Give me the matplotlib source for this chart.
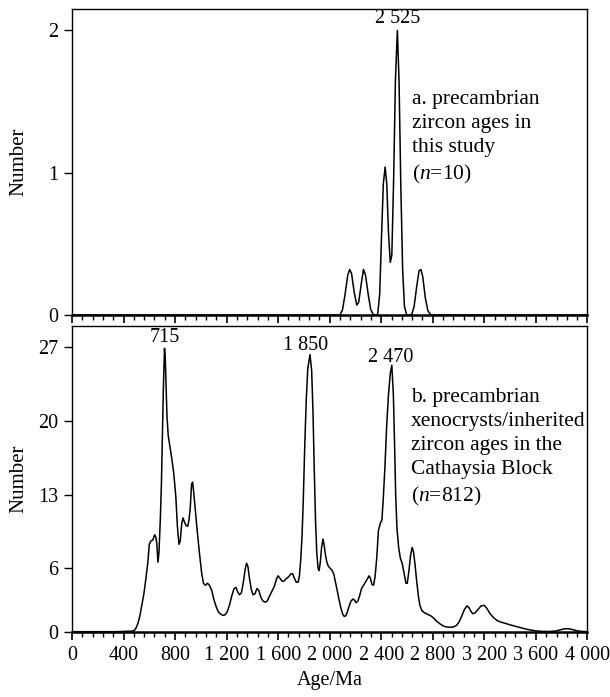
import numpy as np
import matplotlib
matplotlib.use('Agg')
import matplotlib.pyplot as plt
from matplotlib.ticker import MultipleLocator, FixedLocator

plt.rcParams['font.family'] = ['Liberation Serif', 'DejaVu Serif']
plt.rcParams['font.size'] = 14.5
plt.rcParams['mathtext.fontset'] = 'custom'
plt.rcParams['mathtext.rm'] = 'Liberation Serif'
plt.rcParams['mathtext.it'] = 'Liberation Serif:italic'

# a. precambrian zircon ages in this study (n=10)
top_age = [0, 2080, 2100, 2120, 2140, 2155, 2170, 2190, 2210, 2225, 2245, 2262, 2278,
           2298, 2318, 2340, 2372, 2388, 2402, 2416, 2430, 2443, 2456, 2470, 2482,
           2496, 2510, 2525, 2538, 2552, 2566, 2580, 2598, 2635, 2655, 2675, 2693,
           2708, 2722, 2742, 2762, 2785, 4000]
top_num = [0, 0, 0.04, 0.15, 0.28, 0.32, 0.29, 0.16, 0.07, 0.09, 0.22, 0.32, 0.28,
           0.15, 0.04, 0, 0, 0.15, 0.55, 0.92, 1.04, 0.92, 0.58, 0.37, 0.42,
           0.95, 1.65, 2.0, 1.65, 0.9, 0.32, 0.06, 0, 0, 0.06, 0.2, 0.31,
           0.32, 0.27, 0.12, 0.03, 0, 0]

# b. precambrian xenocrysts/inherited zircon ages in the Cathaysia Block (n=812)
bot_age = [0, 340, 460, 482, 497, 512, 527, 542, 558, 573, 588, 600, 612, 627, 642, 650,
           658, 667, 675, 685, 694, 702, 709, 718, 724, 730, 737, 747, 760, 775, 790,
           806, 818, 830, 840, 852, 862, 873, 885, 898, 908, 918, 928, 936, 945, 955,
           970, 988, 1006, 1020, 1035, 1052, 1067, 1085, 1100, 1118, 1135, 1150, 1170,
           1188, 1205, 1224, 1240, 1258, 1273, 1285, 1300, 1315, 1330, 1345, 1355, 1365,
           1378, 1392, 1405, 1420, 1436, 1450, 1465, 1482, 1500, 1515, 1530, 1550, 1570,
           1590, 1600, 1612, 1630, 1645, 1660, 1680, 1700, 1712, 1725, 1740, 1755, 1765,
           1775, 1785, 1795, 1806, 1818, 1830, 1847, 1860, 1870, 1880, 1890, 1900, 1910,
           1918, 1927, 1937, 1948, 1957, 1967, 1978, 1990, 2005, 2020, 2033, 2045, 2060,
           2073, 2088, 2100, 2112, 2124, 2135, 2150, 2165, 2180, 2192, 2205, 2218, 2232,
           2247, 2262, 2278, 2292, 2305, 2315, 2328, 2340, 2352, 2365, 2378, 2393, 2405,
           2415, 2428, 2442, 2456, 2470, 2482, 2494, 2503, 2512, 2522, 2535, 2548, 2562,
           2578, 2592, 2602, 2615, 2628, 2640, 2650, 2662, 2675, 2688, 2700, 2715, 2735,
           2760, 2785, 2805, 2830, 2855, 2880, 2905, 2935, 2960, 2985, 3005, 3025, 3045,
           3065, 3080, 3095, 3110, 3130, 3150, 3175, 3200, 3220, 3245, 3270, 3300, 3330,
           3360, 3400, 3450, 3500, 3550, 3600, 3650, 3700, 3750, 3790, 3825, 3855, 3885,
           3920, 3960, 4000]
bot_num = [0, 0, 0.05, 0.1, 0.35, 0.8, 1.5, 2.5, 3.6, 5.0, 6.5, 8.3, 8.6, 8.7, 9.2, 9.0,
           8.4, 6.6, 7.5, 10.5, 14.0, 19.0, 23.0, 26.9, 26.0, 23.5, 20.5, 18.6, 17.6, 16.4, 15.0,
           12.8, 10.0, 8.3, 8.6, 10.3, 10.8, 10.4, 10.1, 10.0, 10.6, 11.8, 14.0, 14.2, 13.2, 11.8,
           9.8, 7.6, 5.6, 4.6, 4.4, 4.6, 4.4, 3.9, 3.1, 2.4, 1.9, 1.7, 1.55,
           1.6, 1.9, 2.6, 3.4, 4.1, 4.2, 3.8, 3.5, 3.7, 4.7, 6.0, 6.5, 6.2,
           5.0, 4.0, 3.5, 3.6, 4.1, 3.9, 3.3, 2.9, 2.8, 2.9, 3.3, 3.8, 4.3,
           5.1, 5.3, 5.1, 4.8, 4.8, 5.0, 5.2, 5.5, 5.5, 5.1, 4.7, 4.7, 5.3,
           6.8, 9.0, 12.5, 17.5, 22.0, 25.0, 26.3, 24.8, 21.0, 15.5, 10.5, 7.4, 6.0,
           5.8, 6.6, 8.0, 8.8, 8.2, 7.3, 6.6, 6.2, 6.0, 5.8, 5.4, 4.7, 3.8,
           3.0, 2.2, 1.7, 1.45, 1.5, 1.8, 2.4, 2.9, 3.1, 3.0, 2.75, 2.9, 3.4,
           4.1, 4.4, 4.7, 5.0, 5.3, 5.1, 4.5, 4.4, 5.2, 7.0, 9.6, 10.3, 10.6,
           12.5, 15.5, 19.5, 22.5, 24.5, 25.3, 22.5, 18.0, 13.0, 9.8, 8.0, 7.0, 6.5,
           5.5, 4.6, 4.6, 5.8, 7.3, 8.0, 7.6, 6.4, 4.8, 3.4, 2.5, 2.0, 1.8,
           1.65, 1.5, 1.3, 1.0, 0.75, 0.55, 0.45, 0.42, 0.45, 0.6, 0.95, 1.5, 2.1,
           2.45, 2.3, 1.95, 1.7, 1.8, 2.1, 2.45, 2.5, 2.2, 1.7, 1.35, 1.05, 0.9,
           0.8, 0.65, 0.48, 0.32, 0.18, 0.08, 0.03, 0.02, 0.06, 0.18, 0.28, 0.28, 0.2,
           0.08, 0.02, 0]

x_ticks = [0, 400, 800, 1200, 1600, 2000, 2400, 2800, 3200, 3600, 4000]
x_labels = ['0', '400', '800', '1 200', '1 600', '2 000', '2 400', '2 800', '3 200', '3 600', '4 000']
top_yticks = [0, 1, 2]
bot_yticks = [0, 6, 13, 20, 27]

fig = plt.figure(figsize=(6.1, 6.97), dpi=100)
ax1 = fig.add_axes([0.118, 0.548, 0.845, 0.439])
ax2 = fig.add_axes([0.118, 0.0937, 0.845, 0.439])

for ax in (ax1, ax2):
    ax.set_xlim(0, 4000)
    ax.xaxis.set_major_locator(FixedLocator(x_ticks))
    ax.xaxis.set_minor_locator(MultipleLocator(80))
    ax.tick_params(axis='x', which='major', direction='out', length=6, width=1.2, pad=4)
    ax.tick_params(axis='x', which='minor', direction='out', length=3.5, width=1.0)
    ax.tick_params(axis='y', which='major', direction='out', length=6, width=1.0, pad=4)
    for s in ['top', 'right', 'left']:
        ax.spines[s].set_linewidth(1.0)
    ax.spines['bottom'].set_linewidth(1.8)

ax1.plot(top_age, top_num, color='black', lw=1.1)
ax1.set_ylim(0, 2.15)
ax1.set_yticks(top_yticks)
ax1.tick_params(axis='x', labelbottom=False)
ax1.set_ylabel('Number', fontsize=15)
ax1.yaxis.set_label_coords(-0.085, 0.5)
ax1.text(2525, 2.02, '2 525', ha='center', va='bottom')
ax1.text(2637, 1.58, 'a. precambrian\nzircon ages in\nthis study\n($\\mathit{n}$=10)',
         ha='left', va='top', linespacing=1.36, fontsize=15.5)

ax2.plot(bot_age, bot_num, color='black', lw=1.1)
ax2.set_ylim(0, 29.05)
ax2.set_yticks(bot_yticks)
ax2.set_xticklabels(x_labels)
ax2.set_ylabel('Number', fontsize=15)
ax2.yaxis.set_label_coords(-0.085, 0.5)
ax2.set_xlabel('Age/Ma')
ax2.xaxis.set_label_coords(0.5, -0.13)
ax2.text(718, 27.0, '715', ha='center', va='bottom')
ax2.text(1815, 26.3, '1 850', ha='center', va='bottom')
ax2.text(2475, 25.1, '2 470', ha='center', va='bottom')
ax2.text(2630, 23.1, 'b. precambrian\nxenocrysts/inherited\nzircon ages in the\nCathaysia Block\n($\\mathit{n}$=812)',
         ha='left', va='top', linespacing=1.36, fontsize=15.5)

fig.savefig('out.png', dpi=100)
